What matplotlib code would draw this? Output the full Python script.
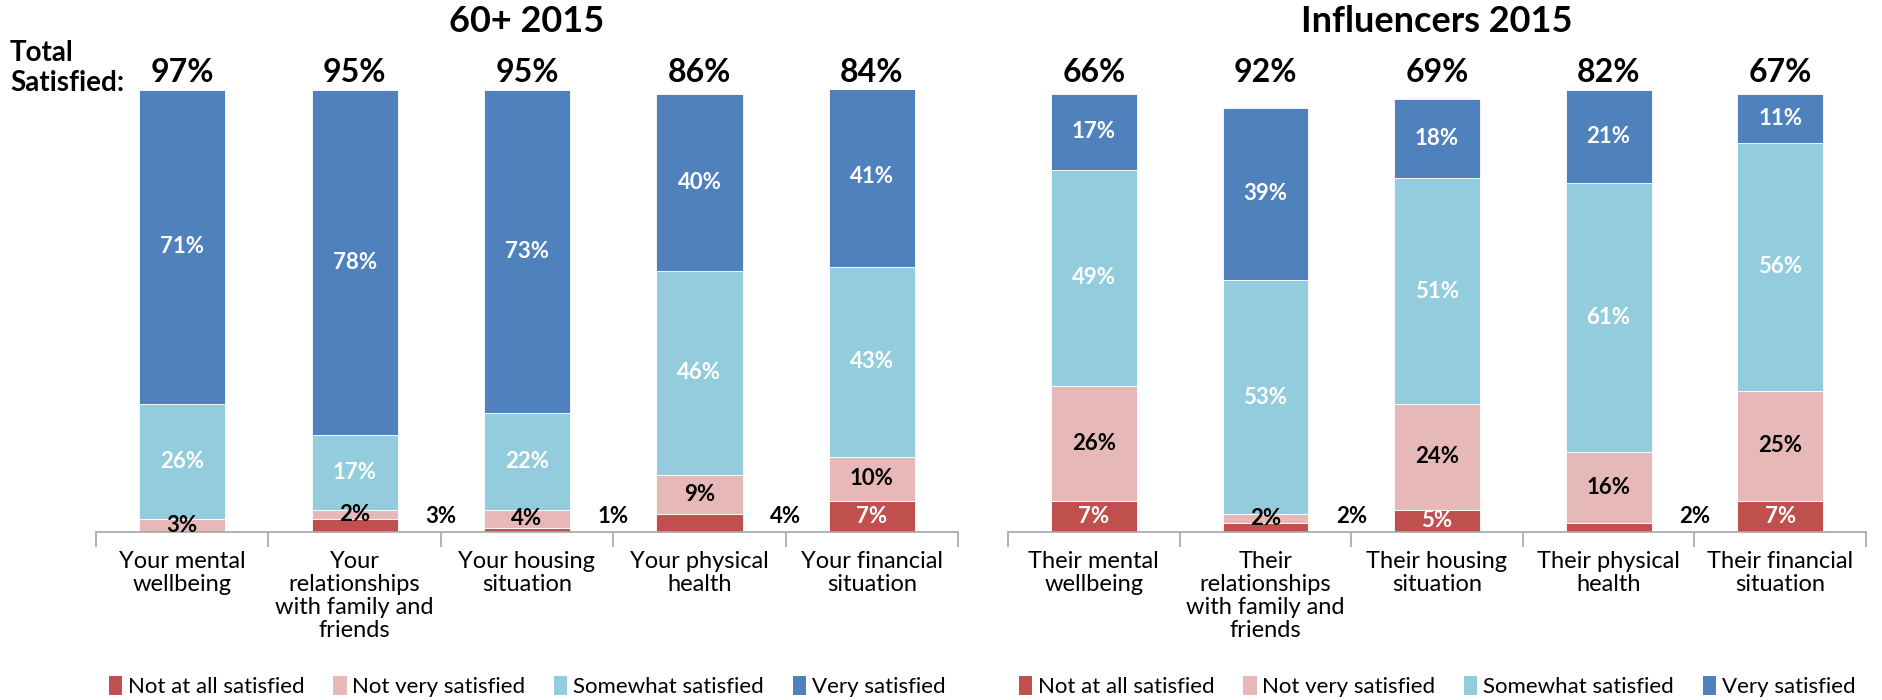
import matplotlib
matplotlib.use("Agg")
import matplotlib.pyplot as plt
from matplotlib.patches import Patch

plt.rcParams["font.family"] = ["Lato", "DejaVu Sans"]

# ---------------------------------------------------------------------------
# Data
# ---------------------------------------------------------------------------
SERIES = ["Not at all satisfied", "Not very satisfied",
          "Somewhat satisfied", "Very satisfied"]
COLORS = ["#C0504D", "#E6B9B8", "#93CDDD", "#4F81BD"]

cats_60 = ["Your mental\nwellbeing",
           "Your\nrelationships\nwith family and\nfriends",
           "Your housing\nsituation",
           "Your physical\nhealth",
           "Your financial\nsituation"]
not_at_all_60 = [0, 3, 1, 4, 7]
not_very_60 = [3, 2, 4, 9, 10]
somewhat_60 = [26, 17, 22, 46, 43]
very_60 = [71, 78, 73, 40, 41]
total_60 = [97, 95, 95, 86, 84]

cats_inf = ["Their mental\nwellbeing",
            "Their\nrelationships\nwith family and\nfriends",
            "Their housing\nsituation",
            "Their physical\nhealth",
            "Their financial\nsituation"]
not_at_all_inf = [7, 2, 5, 2, 7]
not_very_inf = [26, 2, 24, 16, 25]
somewhat_inf = [49, 53, 51, 61, 56]
very_inf = [17, 39, 18, 21, 11]
total_inf = [66, 92, 69, 82, 67]

# small "not at all" values whose label sits outside, right of the bar
outside_60 = {1: 3, 2: 1, 3: 4}
outside_inf = {1: 2, 3: 2}


def panel(ax, title, cats, stacks, totals, outside):
    n = len(cats)
    x = list(range(n))
    bottoms = [0] * n
    for k, (vals, col) in enumerate(zip(stacks, COLORS)):
        ax.bar(x, vals, width=0.5, bottom=bottoms, color=col,
               edgecolor="white", linewidth=0.6, zorder=2)
        for i, v in enumerate(vals):
            if v == 0 or (k == 0 and i in outside):
                continue
            tc = "white" if col in ("#C0504D", "#4F81BD", "#93CDDD") else "black"
            if k == 0 and v <= 2:
                tc = "black"
            ax.text(i, bottoms[i] + v / 2, f"{v}%", ha="center", va="center",
                    fontsize=16, fontweight="bold", color=tc, zorder=3)
        bottoms = [b + v for b, v in zip(bottoms, vals)]

    for i, v in outside.items():
        ax.text(i + 0.5, 3.5, f"{v}%", ha="center", va="center",
                fontsize=16, fontweight="bold", color="black")

    for i, t in enumerate(totals):
        ax.text(i, 104, f"{t}%", ha="center", va="center",
                fontsize=23, fontweight="bold")

    ax.text((n - 1) / 2, 115.5, title, ha="center", va="center",
            fontsize=26, fontweight="bold")

    ax.set_xlim(-0.5, n - 0.5)
    ax.set_ylim(0, 100)
    ax.set_xticks(x)
    ax.set_xticklabels(cats, fontsize=17, linespacing=1.1, va="top")
    ax.tick_params(axis="x", which="major", length=0, pad=14)
    ax.set_xticks([i - 0.5 for i in range(n + 1)], minor=True)
    ax.tick_params(axis="x", which="minor", length=11, width=1.2,
                   color="#A6A6A6", direction="out")
    ax.set_yticks([])
    for s in ("left", "right", "top"):
        ax.spines[s].set_visible(False)
    ax.spines["bottom"].set_color("#A6A6A6")
    ax.spines["bottom"].set_linewidth(1.2)

    handles = [Patch(facecolor=c, edgecolor="none", label=s)
               for s, c in zip(SERIES, COLORS)]
    ax.legend(handles=handles, loc="center", bbox_to_anchor=(0.5, -0.35),
              ncol=4, frameon=False, fontsize=16, handlelength=0.6,
              handleheight=0.9, handletextpad=0.25, columnspacing=1.3)


fig = plt.figure(figsize=(18.82, 7.0), dpi=100)
ax1 = fig.add_axes([96 / 1882, 0.24, 862 / 1882, 442 / 700])
ax2 = fig.add_axes([1008 / 1882, 0.24, 858 / 1882, 442 / 700])

panel(ax1, "60+ 2015", cats_60,
      [not_at_all_60, not_very_60, somewhat_60, very_60], total_60, outside_60)
panel(ax2, "Influencers 2015", cats_inf,
      [not_at_all_inf, not_very_inf, somewhat_inf, very_inf], total_inf,
      outside_inf)

fig.text(10 / 1882, 1 - 68 / 700, "Total\nSatisfied:", ha="left", va="center",
         fontsize=20, fontweight="bold", linespacing=1.15)

fig.savefig("out.png", dpi=100)
